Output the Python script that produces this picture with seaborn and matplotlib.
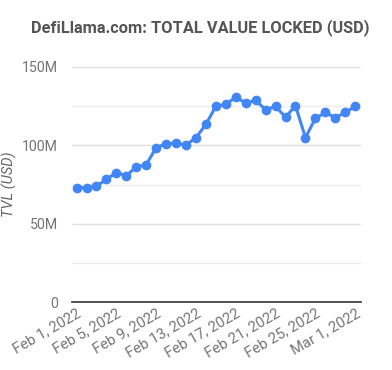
import matplotlib
matplotlib.use("Agg")
import matplotlib.pyplot as plt
import matplotlib.ticker as mticker
import seaborn as sns
import pandas as pd
import numpy as np

dates = pd.date_range("2022-02-01", "2022-03-01", freq="D")
tvl_millions = [73.0, 73.0, 73.9, 78.3, 82.6, 80.7, 86.2, 87.7, 98.5, 101.1,
                101.5, 100.2, 104.9, 113.4, 125.0, 126.1, 130.8, 126.9, 128.7, 122.7,
                124.8, 118.0, 125.3, 104.9, 117.2, 121.0, 117.6, 121.0, 124.8]
tick_dates = pd.date_range("2022-02-01", "2022-03-01", freq="4D")
tick_labels = ["Feb 1, 2022", "Feb 5, 2022", "Feb 9, 2022", "Feb 13, 2022",
               "Feb 17, 2022", "Feb 21, 2022", "Feb 25, 2022", "Mar 1, 2022"]
y_ticks = [0, 50e6, 100e6, 150e6]
y_tick_labels = ["0", "50M", "100M", "150M"]

df = pd.DataFrame({"date": dates, "tvl": np.array(tvl_millions) * 1e6})

sns.set_theme(style="white")
plt.rcParams["font.family"] = ["Roboto", "DejaVu Sans"]

fig = plt.figure(figsize=(3.92, 3.70), dpi=100)
ax = fig.add_axes([72/392, 1 - 302/370, (361-72)/392, (302-67)/370])

blue = "#4285F4"
sns.lineplot(data=df, x="date", y="tvl", ax=ax, color=blue, linewidth=2.2,
             marker="o", markersize=7, markeredgewidth=0, zorder=3)

ax.set_ylim(0, 150e6)
ax.set_xlim(dates[0] - pd.Timedelta(hours=11), dates[-1] + pd.Timedelta(hours=14))
ax.set_yticks(y_ticks)
ax.set_yticklabels(y_tick_labels)
ax.yaxis.set_minor_locator(mticker.MultipleLocator(25e6))
ax.grid(True, which="major", axis="y", color="#e0e0e0", linewidth=1)
ax.grid(True, which="minor", axis="y", color="#eeeeee", linewidth=1)
ax.set_axisbelow(True)

ax.set_xticks(tick_dates)
ax.set_xticklabels(tick_labels, rotation=30, ha="right", rotation_mode="anchor")

for s in ["top", "right", "left"]:
    ax.spines[s].set_visible(False)
ax.spines["bottom"].set_color("#333333")
ax.spines["bottom"].set_linewidth(1.2)

ax.tick_params(axis="y", which="both", length=0, colors="#757575", labelsize=10.2, pad=10)
ax.tick_params(axis="x", which="both", length=0, colors="#757575", labelsize=10.6, pad=3)

ax.set_xlabel("")
ax.set_ylabel("TVL (USD)", fontsize=10.5, color="#666666", style="italic")
ax.yaxis.set_label_coords(-0.19, 0.5)

fig.text(200/392, 1 - 28/370, "DefiLlama.com: TOTAL VALUE LOCKED (USD)",
         ha="center", va="center", fontsize=11.8, fontweight="bold", color="#555555")

fig.savefig("out.png", dpi=100)
